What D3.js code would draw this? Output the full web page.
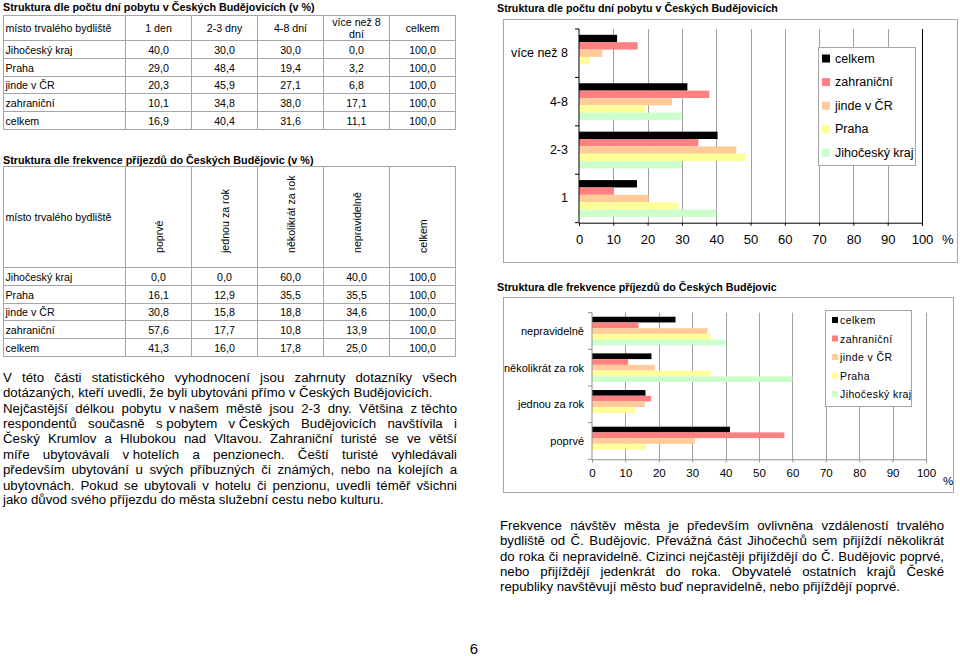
<!DOCTYPE html>
<html><head><meta charset="utf-8">
<script src="https://cdn.jsdelivr.net/npm/d3@7"></script>
<style>html,body{margin:0;padding:0;background:#fff;}svg{display:block;}</style>
</head><body>
<script>
// ---------- DATA ----------
const regions = ["Jihočeský kraj", "Praha", "jinde v ČR", "zahraniční", "celkem"];
const stayHeaders = ["1 den", "2-3 dny", "4-8 dní", "více než 8 dní", "celkem"];
const stayCats = ["1", "2-3", "4-8", "více než 8"];
const stayJihocesky = [40.0, 30.0, 30.0, 0.0];
const stayPraha = [29.0, 48.4, 19.4, 3.2];
const stayJinde = [20.3, 45.9, 27.1, 6.8];
const stayZahranici = [10.1, 34.8, 38.0, 17.1];
const stayCelkem = [16.9, 40.4, 31.6, 11.1];

const freqHeaders = ["poprvé", "jednou za rok", "několikrát za rok", "nepravidelně", "celkem"];
const freqCats = ["poprvé", "jednou za rok", "několikrát za rok", "nepravidelně"];
const freqJihocesky = [0.0, 0.0, 60.0, 40.0];
const freqPraha = [16.1, 12.9, 35.5, 35.5];
const freqJinde = [30.8, 15.8, 18.8, 34.6];
const freqZahranici = [57.6, 17.7, 10.8, 13.9];
const freqCelkem = [41.3, 16.0, 17.8, 25.0];

const totals = [100.0, 100.0, 100.0, 100.0, 100.0];
const xTicks = [0, 10, 20, 30, 40, 50, 60, 70, 80, 90, 100];
const legendOrder = ["celkem", "zahraniční", "jinde v ČR", "Praha", "Jihočeský kraj"];

const title1 = "Struktura dle počtu dní pobytu v Českých Budějovicích (v %)";
const title2 = "Struktura dle frekvence příjezdů do Českých Budějovic (v %)";
const chartTitle1 = "Struktura dle počtu dní pobytu v Českých Budějovicích";
const chartTitle2 = "Struktura dle frekvence příjezdů do Českých Budějovic";
const firstColHeader = "místo trvalého bydliště";

const para1 = [
  {t: "V této části statistického vyhodnocení jsou zahrnuty dotazníky všech", j: true},
  {t: "dotázaných, kteří uvedli, že byli ubytováni přímo v Českých Budějovicích.", j: false},
  {t: "Nejčastější délkou pobytu v\u00A0našem městě jsou 2-3 dny. Většina z\u00A0těchto", j: true},
  {t: "respondentů současně s\u00A0pobytem v\u00A0Českých Budějovicích navštívila i", j: true},
  {t: "Český Krumlov a Hlubokou nad Vltavou. Zahraniční turisté se ve větší", j: true},
  {t: "míře ubytovávali v\u00A0hotelích a penzionech. Čeští turisté vyhledávali", j: true},
  {t: "především ubytování u svých příbuzných či známých, nebo na kolejích a", j: true},
  {t: "ubytovnách. Pokud se ubytovali v hotelu či penzionu, uvedli téměř všichni", j: true},
  {t: "jako důvod svého příjezdu do města služební cestu nebo kulturu.", j: false}
];
const para2 = [
  {t: "Frekvence návštěv města je především ovlivněna vzdáleností trvalého", j: true},
  {t: "bydliště od Č. Budějovic. Převážná část Jihočechů sem přijíždí několikrát", j: true},
  {t: "do roka či nepravidelně. Cizinci nejčastěji přijíždějí do Č. Budějovic poprvé,", j: true},
  {t: "nebo přijíždějí jedenkrát do roka. Obyvatelé ostatních krajů České", j: true},
  {t: "republiky navštěvují město buď nepravidelně, nebo přijíždějí poprvé.", j: false}
];
const pageNumber = "6";

// ---------- STYLE ----------
const FONT = "'Liberation Sans', Arial, Helvetica, sans-serif";
const seriesColor = {"celkem": "#000000", "zahraniční": "#ff8080", "jinde v ČR": "#ffcc99", "Praha": "#ffff99", "Jihočeský kraj": "#ccffcc"};
const fmt = v => d3.format(".1f")(v).replace(".", ",");

const svg = d3.select("body").append("svg").attr("width", 960).attr("height", 656)
  .style("font-family", FONT);
svg.append("rect").attr("width", 960).attr("height", 656).attr("fill", "#fff");

function textWidth(str, size, weight) {
  const t = svg.append("text").attr("font-size", size).attr("font-weight", weight || "normal").text(str);
  const w = t.node().getComputedTextLength();
  t.remove();
  return w;
}
function fit(str, target, weight) { return 100 * target / textWidth(str, 100, weight); }

// ---------- TABLES ----------
const tableSize = fit(firstColHeader, 106);
const titleSize = fit(title1, 312, "bold");
const colX = [3.5, 125.5, 191.5, 257.5, 323.5, 389.5, 455.5];
const lineCol = "#a6a6a6";

function drawTable(rowY, headerFn, rowsData) {
  const g = svg.append("g").attr("font-size", tableSize).attr("fill", "#000");
  rowY.forEach(y => g.append("line").attr("x1", colX[0]).attr("x2", colX[colX.length - 1])
    .attr("y1", y).attr("y2", y).attr("stroke", lineCol));
  colX.forEach(x => g.append("line").attr("x1", x).attr("x2", x)
    .attr("y1", rowY[0]).attr("y2", rowY[rowY.length - 1]).attr("stroke", lineCol));
  headerFn(g);
  rowsData.forEach((r, i) => {
    const yc = (rowY[i + 1] + rowY[i + 2]) / 2;
    g.append("text").attr("x", colX[0] + 2).attr("y", yc).attr("dominant-baseline", "central").text(r.name);
    r.vals.forEach((v, k) => {
      g.append("text").attr("x", (colX[k + 1] + colX[k + 2]) / 2).attr("y", yc)
        .attr("text-anchor", "middle").attr("dominant-baseline", "central").text(fmt(v));
    });
  });
}

const stayBy = [stayJihocesky, stayPraha, stayJinde, stayZahranici, stayCelkem];
const freqBy = [freqJihocesky, freqPraha, freqJinde, freqZahranici, freqCelkem];

svg.append("text").attr("x", 3).attr("y", 7).attr("dominant-baseline", "central")
  .attr("font-weight", "bold").attr("font-size", titleSize).text(title1);

drawTable([15.5, 40.5, 58.5, 76.5, 93.5, 111.5, 129.5], g => {
  const yc = 27.5;
  g.append("text").attr("x", colX[0] + 2).attr("y", yc).attr("dominant-baseline", "central").text(firstColHeader);
  stayHeaders.forEach((h, k) => {
    const cx = (colX[k + 1] + colX[k + 2]) / 2;
    if (h === "více než 8 dní") {
      g.append("text").attr("x", cx).attr("y", 21.5).attr("text-anchor", "middle").attr("dominant-baseline", "central").text("více než 8");
      g.append("text").attr("x", cx).attr("y", 33.5).attr("text-anchor", "middle").attr("dominant-baseline", "central").text("dní");
    } else {
      g.append("text").attr("x", cx).attr("y", yc).attr("text-anchor", "middle").attr("dominant-baseline", "central").text(h);
    }
  });
}, regions.map((r, i) => ({name: r, vals: stayBy[i].concat([totals[i]])})));

svg.append("text").attr("x", 3).attr("y", 160).attr("dominant-baseline", "central")
  .attr("font-weight", "bold").attr("font-size", titleSize).text(title2);

drawTable([166.5, 267.5, 285.5, 303.5, 320.5, 338.5, 356.5], g => {
  g.append("text").attr("x", colX[0] + 2).attr("y", 217).attr("dominant-baseline", "central").text(firstColHeader);
  freqHeaders.forEach((h, k) => {
    const cx = (colX[k + 1] + colX[k + 2]) / 2;
    g.append("text").attr("transform", `translate(${cx + 4},253) rotate(-90)`).text(h);
  });
}, regions.map((r, i) => ({name: r, vals: freqBy[i].concat([totals[i]])})));

// ---------- PARAGRAPHS ----------
function drawPara(lines, x0, width, yFirst, lh, size) {
  const g = svg.append("g").attr("font-size", size).attr("fill", "#000");
  lines.forEach((ln, i) => {
    const y = yFirst + i * lh;
    const t = g.append("text").attr("y", y).attr("dominant-baseline", "central");
    if (!ln.j) { t.attr("x", x0).text(ln.t); return; }
    const words = ln.t.split(" ");
    const spans = words.map(w => t.append("tspan").text(w));
    const ws = spans.map(s => s.node().getComputedTextLength());
    const gap = (width - d3.sum(ws)) / (words.length - 1);
    let x = x0;
    spans.forEach((s, k) => { s.attr("x", x); x += ws[k] + gap; });
  });
}
const paraSize = fit(para1[1].t, 430);
drawPara(para1, 3, 454, 376.7, 15.4, paraSize);
drawPara(para2, 500, 444, 525, 15.3, paraSize);

svg.append("text").attr("x", 474).attr("y", 648).attr("text-anchor", "middle")
  .attr("dominant-baseline", "central").attr("font-size", 15).text(pageNumber);

// ---------- CHARTS ----------
function drawChart(cfg) {
  const g = svg.append("g");
  g.append("rect").attr("x", cfg.frame.x + 0.5).attr("y", cfg.frame.y + 0.5)
    .attr("width", cfg.frame.w).attr("height", cfg.frame.h).attr("fill", "#fff").attr("stroke", "#a6a6a6");
  g.append("text").attr("x", 497).attr("y", cfg.titleY).attr("dominant-baseline", "central")
    .attr("font-weight", "bold").attr("font-size", cfg.titleSize).text(cfg.title);

  const x = d3.scaleLinear().domain([0, 100]).range([cfg.plot.x0, cfg.plot.x1]);
  const y = d3.scaleBand().domain(cfg.cats.slice().reverse()).range([cfg.plot.y0, cfg.plot.y1])
    .paddingInner(cfg.padIn).paddingOuter(cfg.padOut);
  const yi = d3.scaleBand().domain(legendOrder).range([0, y.bandwidth()]);

  xTicks.filter(t => t > 0).forEach(t => {
    g.append("line").attr("x1", Math.round(x(t)) + 0.5).attr("x2", Math.round(x(t)) + 0.5)
      .attr("y1", cfg.plot.y0).attr("y2", cfg.plot.y1)
      .attr("stroke", (t === 100 && cfg.rightBlack) ? "#000" : "#a0a0a0").attr("stroke-width", 1);
  });

  cfg.cats.forEach((c, ci) => {
    legendOrder.forEach(s => {
      const v = cfg.series[s][ci];
      g.append("rect").attr("x", x(0)).attr("y", y(c) + yi(s))
        .attr("width", x(v) - x(0)).attr("height", yi.bandwidth()).attr("fill", seriesColor[s]);
    });
  });

  const xAxis = d3.axisBottom(x).tickValues(xTicks).tickSize(cfg.tickLen).tickFormat(d3.format("d"));
  const ax = g.append("g").attr("transform", `translate(0,${cfg.plot.y1})`).call(xAxis);
  ax.select(".domain").attr("stroke", cfg.axisCol);
  ax.selectAll(".tick line").attr("stroke", cfg.axisCol);
  ax.selectAll(".tick text").attr("font-family", FONT).attr("font-size", cfg.tickSize).attr("fill", "#000")
    .attr("y", cfg.tickLabelY - cfg.plot.y1).attr("dy", null).attr("dominant-baseline", "central");
  g.append("text").attr("x", cfg.pct.x).attr("y", cfg.pct.y).attr("font-size", cfg.tickSize)
    .attr("dominant-baseline", "central").text("%");

  g.append("line").attr("x1", x(0)).attr("x2", x(0)).attr("y1", cfg.plot.y0).attr("y2", cfg.plot.y1)
    .attr("stroke", cfg.axisCol);
  d3.range(cfg.cats.length + 1).forEach(k => {
    const yy = cfg.plot.y0 + k * (cfg.plot.y1 - cfg.plot.y0) / cfg.cats.length;
    g.append("line").attr("x1", x(0) - 4).attr("x2", x(0)).attr("y1", yy).attr("y2", yy).attr("stroke", cfg.axisCol);
  });
  cfg.cats.forEach(c => {
    g.append("text").attr("x", x(0) - cfg.labelGap).attr("y", y(c) + y.bandwidth() / 2)
      .attr("text-anchor", "end").attr("dominant-baseline", "central")
      .attr("font-size", cfg.labelSize).text(c);
  });

  const L = cfg.legend;
  g.append("rect").attr("x", L.x + 0.5).attr("y", L.y + 0.5).attr("width", L.w).attr("height", L.h)
    .attr("fill", "#fff").attr("stroke", "#a6a6a6");
  legendOrder.forEach((s, k) => {
    const yy = L.first + k * L.step;
    g.append("rect").attr("x", L.sx).attr("y", yy - L.sw / 2).attr("width", L.sw).attr("height", L.sw)
      .attr("fill", seriesColor[s]);
    g.append("text").attr("x", L.tx).attr("y", yy).attr("dominant-baseline", "central")
      .attr("font-size", L.size).attr("letter-spacing", L.ls).text(s);
  });
}

const chartTitleSize = fit(chartTitle1, 281, "bold");

drawChart({
  frame: {x: 503, y: 19, w: 454, h: 243},
  title: chartTitle1, titleY: 7.5, titleSize: chartTitleSize,
  plot: {x0: 579, x1: 922, y0: 29, y1: 222.7},
  cats: stayCats,
  series: {"celkem": stayCelkem, "zahraniční": stayZahranici, "jinde v ČR": stayJinde, "Praha": stayPraha, "Jihočeský kraj": stayJihocesky},
  padIn: 0.24, padOut: 0.12,
  axisCol: "#000", rightBlack: true, tickLen: 3,
  tickSize: 13, tickLabelY: 240, pct: {x: 942, y: 239},
  labelSize: 12.5, labelGap: 11,
  legend: {x: 818, y: 47, w: 97, h: 118, first: 58.5, step: 23.6, sx: 822, sw: 8, tx: 835, size: 12.5, ls: 0}
});

drawChart({
  frame: {x: 503, y: 297, w: 450, h: 195},
  title: chartTitle2, titleY: 286.7, titleSize: chartTitleSize,
  plot: {x0: 592, x1: 926, y0: 312.7, y1: 459.3},
  cats: freqCats,
  series: {"celkem": freqCelkem, "zahraniční": freqZahranici, "jinde v ČR": freqJinde, "Praha": freqPraha, "Jihočeský kraj": freqJihocesky},
  padIn: 0.22, padOut: 0.11,
  axisCol: "#909090", rightBlack: false, tickLen: 3,
  tickSize: 11.5, tickLabelY: 473.5, pct: {x: 943, y: 481},
  labelSize: 11, labelGap: 8,
  legend: {x: 825, y: 310, w: 86, h: 96, first: 320, step: 18.5, sx: 832, sw: 6, tx: 840, size: 10.5, ls: 0.4}
});
</script>
</body></html>
